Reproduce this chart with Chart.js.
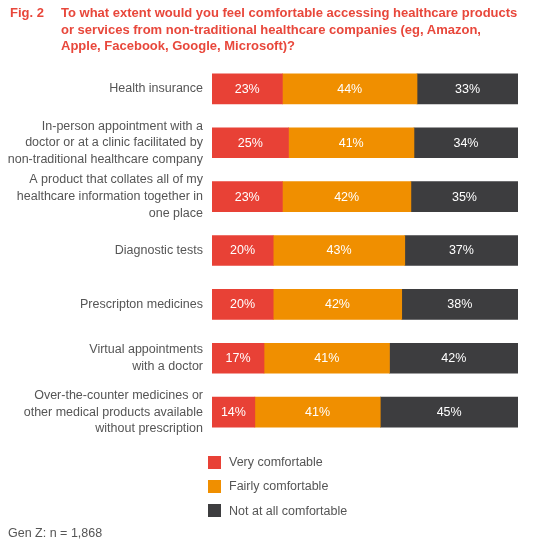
<!DOCTYPE html>
<html>
<head>
<meta charset="utf-8">
<script src="https://cdn.jsdelivr.net/npm/chart.js@4"></script>
<style>
  html, body { margin: 0; padding: 0; background: #fff; }
  body { width: 533px; height: 552px; position: relative; overflow: hidden;
         font-family: "Liberation Sans", Arial, sans-serif; }
  #wrap { position: absolute; left: 0; top: 0; width: 533px; height: 552px; }
  .fig { position: absolute; left: 10px; top: 5px; color: #e8473b; font-weight: bold; font-size: 13px; line-height: 16.5px; }
  .title { position: absolute; left: 61px; top: 5px; width: 472px; white-space: nowrap; color: #e8473b; font-weight: bold; font-size: 13px; line-height: 16.5px; }
  .legend { position: absolute; left: 208px; top: 450px; }
  .legend div { height: 24.3px; display: flex; align-items: center; color: #555; font-size: 12.5px; }
  .legend span { display: inline-block; width: 13px; height: 13px; margin-right: 8px; }
  .foot { position: absolute; left: 8px; top: 526px; color: #555; font-size: 12.5px; }
</style>
</head>
<body>
<div id="wrap"><canvas id="chart"></canvas></div>
<div class="fig">Fig. 2</div>
<div class="title">To what extent would you feel comfortable accessing healthcare products<br>or services from non-traditional healthcare companies (eg, Amazon,<br>Apple, Facebook, Google, Microsoft)?</div>
<div class="legend" id="legend"></div>
<div class="foot">Gen Z: n = 1,868</div>
<script>
const categories = [
    ["Health insurance"],
    ["In-person appointment with a", "doctor or at a clinic facilitated by", "non-traditional healthcare company"],
    ["A product that collates all of my", "healthcare information together in", "one place"],
    ["Diagnostic tests"],
    ["Prescripton medicines"],
    ["Virtual appointments", "with a doctor"],
    ["Over-the-counter medicines or", "other medical products available", "without prescription"]
];
const seriesNames = ["Very comfortable", "Fairly comfortable", "Not at all comfortable"];
const veryComfortable = [23, 25, 23, 20, 20, 17, 14];
const fairlyComfortable = [44, 41, 42, 43, 42, 41, 41];
const notComfortable = [33, 34, 35, 37, 38, 42, 45];
const colors = ["#e84136", "#f08f00", "#3d3d3f"];

// draw the percentage inside each bar segment
const valueLabels = {
    id: "valueLabels",
    afterDatasetsDraw(chart) {
        const ctx = chart.ctx;
        ctx.save();
        ctx.fillStyle = "#fff";
        ctx.font = '12.5px "Liberation Sans", Arial, sans-serif';
        ctx.textAlign = "center";
        ctx.textBaseline = "middle";
        chart.data.datasets.forEach((ds, i) => {
            chart.getDatasetMeta(i).data.forEach((bar, j) => {
                const x = (bar.base + bar.x) / 2;
                ctx.fillText(ds.data[j] + "%", x, bar.y + 0.5);
            });
        });
        ctx.restore();
    }
};

const data = {
    labels: categories,
    datasets: [
        { label: seriesNames[0], data: veryComfortable, backgroundColor: colors[0] },
        { label: seriesNames[1], data: fairlyComfortable, backgroundColor: colors[1] },
        { label: seriesNames[2], data: notComfortable, backgroundColor: colors[2] }
    ]
};

new Chart(document.getElementById("chart"), {
    type: "bar",
    data: data,
    plugins: [valueLabels],
    options: {
        indexAxis: "y",
        responsive: true,
        maintainAspectRatio: false,
        animation: false,
        layout: { padding: { top: 62, bottom: 113, right: 15, left: 0 } },
        datasets: { bar: { barThickness: 30, borderWidth: 0 } },
        scales: {
            x: { stacked: true, min: 0, max: 100, display: false },
            y: {
                stacked: true,
                border: { display: false },
                grid: { display: false, drawTicks: false },
                afterFit(scale) { scale.width = 212; },
                ticks: {
                    padding: 9,
                    color: "#555",
                    font: { family: '"Liberation Sans", Arial, sans-serif', size: 12.5, lineHeight: 1.33 }
                }
            }
        },
        plugins: { legend: { display: false }, tooltip: { enabled: false } }
    }
});

// html legend
const legend = document.getElementById("legend");
seriesNames.forEach((name, i) => {
    legend.innerHTML += `<div><span style="background:${colors[i]}"></span>${name}</div>`;
});
</script>
</body>
</html>
